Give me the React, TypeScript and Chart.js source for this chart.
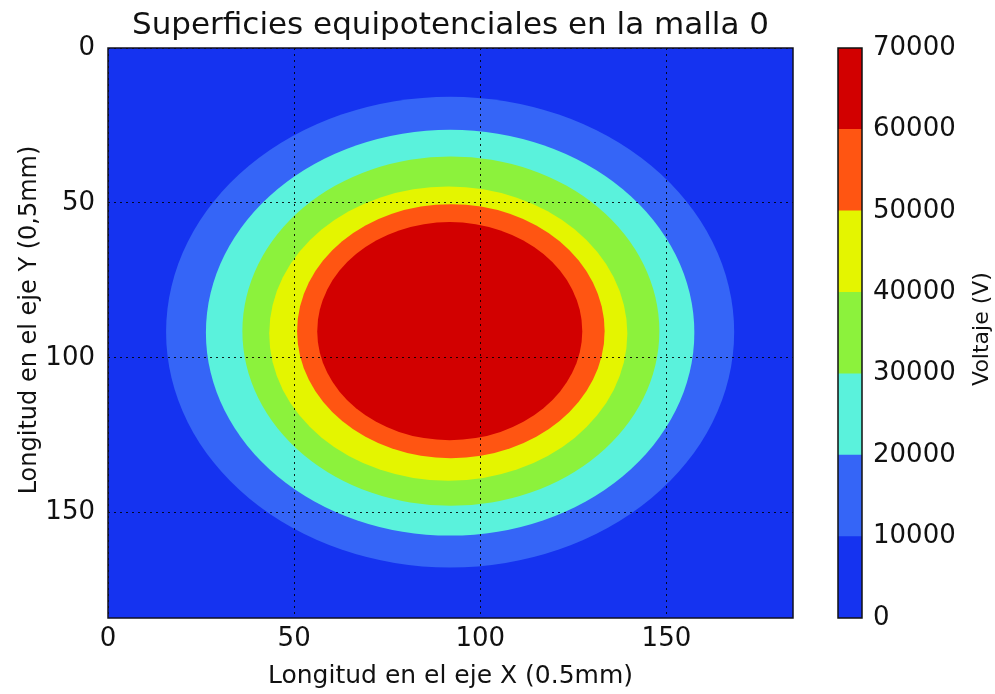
import React, { useEffect, useRef } from 'react';
import { Chart, registerables } from 'chart.js';

Chart.register(...registerables);

// ---- text ----
const chartTitle = 'Superficies equipotenciales en la malla 0';
const xAxisLabel = 'Longitud en el eje X (0.5mm)';
const yAxisLabel = 'Longitud en el eje Y (0,5mm)';
const colorbarLabel = 'Voltaje (V)';

// ---- axes ----
const gridMin = 0;
const gridMax = 184;
const xTicks = [0, 50, 100, 150];
const yTicks = [0, 50, 100, 150];

// ---- colour levels (contourf) ----
const levels = [0, 10000, 20000, 30000, 40000, 50000, 60000, 70000];
const bandColors = ['#1533f0', '#3565f7', '#5af2dc', '#8cf23c', '#e4f500', '#ff5512', '#d20000'];
const colorbarTicks = [0, 10000, 20000, 30000, 40000, 50000, 60000, 70000];

// ---- contour boundaries (data units) ----
const contourLevels = [10000, 20000, 30000, 40000, 50000, 60000];
const contourCenterX = [91.9, 91.9, 92.1, 91.4, 92.1, 91.8];
const contourCenterY = [91.7, 91.9, 91.4, 92.2, 91.4, 91.4];
const contourRadiusX = [76.3, 65.6, 56.0, 48.1, 41.3, 35.6];
const contourRadiusY = [76.0, 65.5, 56.4, 47.5, 41.0, 35.2];

const FONT = 'DejaVu Sans';

const contourPlugin = {
  id: 'contours',
  beforeDraw(chart: any) {
    const { ctx, chartArea: a, scales } = chart;
    const x = scales.x;
    const y = scales.y;
    ctx.save();
    ctx.beginPath();
    ctx.rect(a.left, a.top, a.right - a.left, a.bottom - a.top);
    ctx.clip();
    ctx.fillStyle = bandColors[levels.indexOf(0)];
    ctx.fillRect(a.left, a.top, a.right - a.left, a.bottom - a.top);
    contourLevels.forEach((lv, i) => {
      const cx = x.getPixelForValue(contourCenterX[i]);
      const cy = y.getPixelForValue(contourCenterY[i]);
      const rx = Math.abs(x.getPixelForValue(contourCenterX[i] + contourRadiusX[i]) - cx);
      const ry = Math.abs(y.getPixelForValue(contourCenterY[i] + contourRadiusY[i]) - cy);
      ctx.fillStyle = bandColors[levels.indexOf(lv)];
      ctx.beginPath();
      ctx.ellipse(cx, cy, rx, ry, 0, 0, Math.PI * 2);
      ctx.fill();
    });
    ctx.restore();
  },
  afterDraw(chart: any) {
    const { ctx, chartArea: a } = chart;
    ctx.save();
    ctx.strokeStyle = '#101020';
    ctx.lineWidth = 1.5;
    ctx.strokeRect(a.left, a.top, a.right - a.left, a.bottom - a.top);
    ctx.fillStyle = '#111';
    ctx.font = `31px "${FONT}"`;
    ctx.textAlign = 'center';
    ctx.textBaseline = 'alphabetic';
    ctx.fillText(chartTitle, (a.left + a.right) / 2, 34);
    // y-axis label
    ctx.font = `24px "${FONT}"`;
    ctx.textBaseline = 'middle';
    ctx.translate(30, 320);
    ctx.rotate(-Math.PI / 2);
    ctx.fillText(yAxisLabel, 0, 0);
    ctx.restore();
  },
};

const colorbarPlugin = {
  id: 'colorbarFrame',
  afterDraw(chart: any) {
    const { ctx, chartArea: a } = chart;
    ctx.save();
    ctx.strokeStyle = '#101010';
    ctx.lineWidth = 1.5;
    ctx.strokeRect(a.left, a.top, a.right - a.left, a.bottom - a.top);
    ctx.fillStyle = '#111';
    ctx.font = `22px "${FONT}"`;
    ctx.textAlign = 'center';
    ctx.textBaseline = 'middle';
    ctx.translate(182, 329);
    ctx.rotate(-Math.PI / 2);
    ctx.fillText(colorbarLabel, 0, 0);
    ctx.restore();
  },
};

export default function App() {
  const mainRef = useRef<HTMLCanvasElement>(null);
  const cbRef = useRef<HTMLCanvasElement>(null);

  useEffect(() => {
    Chart.defaults.font.family = FONT;
    const main = new Chart(mainRef.current!, {
      type: 'scatter',
      data: { datasets: [] },
      options: {
        animation: false,
        responsive: false,
        devicePixelRatio: 1,
        layout: { padding: { left: 0, right: 27, top: 48, bottom: 0 } },
        plugins: { legend: { display: false }, tooltip: { enabled: false }, title: { display: false } },
        scales: {
          x: {
            type: 'linear',
            min: gridMin,
            max: gridMax,
            afterBuildTicks: (s: any) => { s.ticks = xTicks.map((v) => ({ value: v })); },
            afterFit: (s: any) => { s.height = 76; },
            ticks: { color: '#111', font: { size: 26 }, padding: 6, maxRotation: 0, callback: (v: any) => String(v) },
            grid: { color: 'rgba(0,0,0,0.85)', lineWidth: 1, drawTicks: false },
            border: { display: false, dash: [2, 4] },
            title: { display: true, text: xAxisLabel, color: '#111', font: { size: 25 }, padding: { top: 0, bottom: 3 } },
          },
          y: {
            type: 'linear',
            reverse: true,
            min: gridMin,
            max: gridMax,
            afterBuildTicks: (s: any) => { s.ticks = yTicks.map((v) => ({ value: v })); },
            afterFit: (s: any) => { s.width = 108; },
            ticks: { color: '#111', font: { size: 26 }, padding: 13, callback: (v: any) => String(v) },
            grid: { color: 'rgba(0,0,0,0.85)', lineWidth: 1, drawTicks: false },
            border: { display: false, dash: [2, 4] },
            title: { display: false },
          },
        },
      },
      plugins: [contourPlugin],
    } as any);

    const cb = new Chart(cbRef.current!, {
      type: 'bar',
      data: {
        labels: [''],
        datasets: bandColors.map((c, i) => ({
          label: `${levels[i]}-${levels[i + 1]}`,
          data: [levels[i + 1] - levels[i]],
          backgroundColor: c,
          borderWidth: 0,
          barPercentage: 1,
          categoryPercentage: 1,
        })),
      },
      options: {
        animation: false,
        responsive: false,
        devicePixelRatio: 1,
        layout: { padding: { left: 38, right: 0, top: 48, bottom: 76 } },
        plugins: { legend: { display: false }, tooltip: { enabled: false } },
        scales: {
          x: { display: false, stacked: true },
          y: {
            stacked: true,
            position: 'right',
            min: 0,
            max: 70000,
            afterBuildTicks: (s: any) => { s.ticks = colorbarTicks.map((v) => ({ value: v })); },
            afterFit: (s: any) => { s.width = 133; },
            ticks: { color: '#111', font: { size: 26 }, padding: 11, callback: (v: any) => String(v) },
            grid: { display: false, drawTicks: false },
            border: { display: false },
          },
        },
      },
      plugins: [colorbarPlugin],
    } as any);

    return () => {
      main.destroy();
      cb.destroy();
    };
  }, []);

  return (
    <div style={{ position: 'fixed', left: 0, top: 0, width: 995, height: 694, background: '#fff', overflow: 'hidden' }}>
      <canvas ref={mainRef} width={820} height={694} style={{ position: 'absolute', left: 0, top: 0 }} />
      <canvas ref={cbRef} width={195} height={694} style={{ position: 'absolute', left: 800, top: 0 }} />
    </div>
  );
}
